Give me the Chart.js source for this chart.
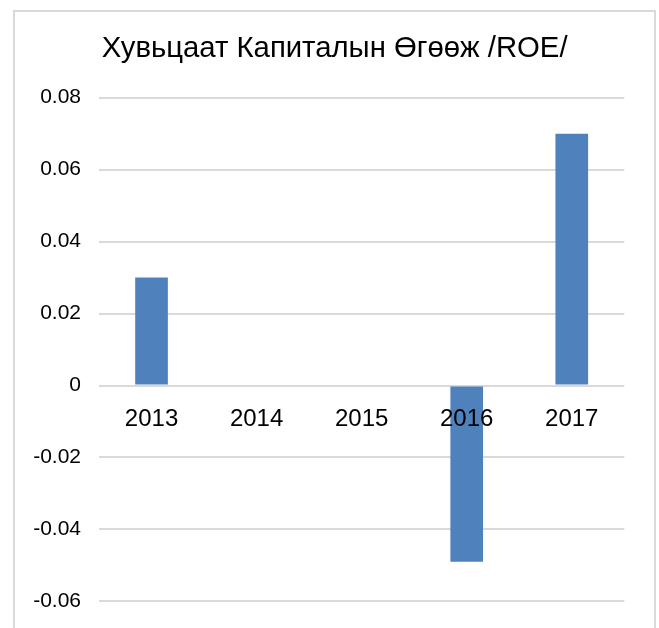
<!DOCTYPE html>
<html>
<head>
<meta charset="utf-8">
<script src="https://cdn.jsdelivr.net/npm/chart.js@4"></script>
<style>
  html, body { margin: 0; padding: 0; background: #fff; overflow: hidden; }
  body { width: 659px; height: 628px; position: relative; overflow: hidden; }
  #frame {
    position: absolute; left: 13px; top: 10px;
    width: 643px; height: 700px;
    box-sizing: border-box;
    border: 2px solid #d9d9d9;
  }
  #roeChart { position: absolute; left: 0; top: 0; }
</style>
</head>
<body>
<div id="frame"></div>
<canvas id="roeChart" width="659" height="632"></canvas>
<script>
// ROE by year
const years = ['2013', '2014', '2015', '2016', '2017'];
const roe = [0.03, 0, 0, -0.049, 0.07];
const yTickValues = [-0.06, -0.04, -0.02, 0, 0.02, 0.04, 0.06, 0.08];
const yTickLabels = ['-0.06', '-0.04', '-0.02', '0', '0.02', '0.04', '0.06', '0.08'];

const ctx = document.getElementById('roeChart').getContext('2d');
const chart = new Chart(ctx, {
  type: 'bar',
  data: {
    labels: years,
    datasets: [{
      label: 'ROE',
      data: roe,
      backgroundColor: '#4f81bd',
      borderWidth: 0,
      barPercentage: 0.311,
      categoryPercentage: 1
    }]
  },
  options: {
    responsive: false,
    animation: false,
    layout: { padding: { left: 10.4, right: 0, top: 0, bottom: 0 } },
    plugins: {
      legend: { display: false },
      tooltip: { enabled: false },
      title: {
        display: true,
        text: 'Хувьцаат Капиталын Өгөөж /ROE/',
        color: '#000',
        font: { family: 'Liberation Sans', size: 29.3, weight: 'normal', lineHeight: 1.2 },
        padding: { top: 31.1, bottom: 31.4 }
      }
    },
    scales: {
      x: {
        position: { y: 0 },
        grid: { display: false },
        border: { display: false },
        ticks: {
          z: 1, // year labels sit on top of the bars
          color: '#000',
          padding: 11,
          font: { family: 'Liberation Sans', size: 24 }
        },
        afterFit: (s) => { s.height = 0; }
      },
      y: {
        min: -0.06,
        max: 0.08,
        border: { display: false },
        grid: { color: '#d9d9d9', lineWidth: 2, drawTicks: false },
        ticks: {
          color: '#000',
          padding: 18,
          font: { family: 'Liberation Sans', size: 21 },
          callback: (v) => yTickLabels[yTickValues.findIndex(t => Math.abs(t - v) < 1e-9)]
        },
        afterBuildTicks: (s) => { s.ticks = yTickValues.map(v => ({ value: v })); },
        afterFit: (s) => { s.width = 88.6; }
      },
      // empty right-hand axis, only to keep the plot's right margin
      yRight: {
        position: 'right',
        grid: { display: false },
        border: { display: false },
        ticks: { display: false },
        afterFit: (s) => { s.width = 34.7; }
      }
    }
  }
});
</script>
</body>
</html>
